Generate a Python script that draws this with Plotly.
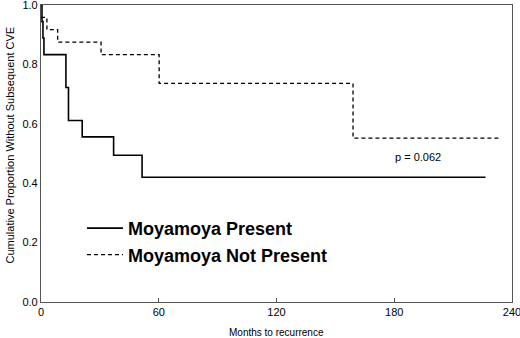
import plotly.graph_objects as go

# Moyamoya Present (solid) - step times (months) and survival proportion
present_months = [0, 0.5, 1, 1.5, 12.7, 14, 21, 37, 51.5, 226.5]
present_surv = [1.0, 0.944, 0.889, 0.833, 0.722, 0.611, 0.556, 0.494, 0.42, 0.42]

# Moyamoya Not Present (dashed)
notpresent_months = [0, 3, 8.5, 30.6, 60.2, 159, 234]
notpresent_surv = [0.958, 0.917, 0.875, 0.833, 0.736, 0.552, 0.552]

x_ticks = [0, 60, 120, 180, 240]
y_ticks = [0.0, 0.2, 0.4, 0.6, 0.8, 1.0]

fig = go.Figure()
fig.add_trace(go.Scatter(
    x=present_months, y=present_surv, mode="lines", line_shape="hv",
    line=dict(color="black", width=1.6), name="<b>Moyamoya Present</b>"))
fig.add_trace(go.Scatter(
    x=notpresent_months, y=notpresent_surv, mode="lines", line_shape="hv",
    line=dict(color="black", width=1.3, dash="4px,3px"), name="<b>Moyamoya Not Present</b>"))

fig.add_annotation(x=192, y=0.487, text="p = 0.062", showarrow=False,
                   font=dict(size=11, color="black"))
fig.add_annotation(xref="paper", yref="paper", x=0.5, y=-0.104, yanchor="middle",
                   text="Months to recurrence", showarrow=False, font=dict(size=10))
fig.add_annotation(xref="paper", yref="paper", x=-0.066, y=0.53, xanchor="center",
                   yanchor="middle", textangle=-90,
                   text="Cumulative Proportion Without Subsequent CVE", showarrow=False,
                   font=dict(size=11))

fig.update_layout(
    width=520, height=338,
    margin=dict(l=41, r=8, t=5, b=36),
    paper_bgcolor="white", plot_bgcolor="white",
    font=dict(family="Liberation Sans, Arial", color="black", size=11),
    showlegend=True,
    legend=dict(x=0.087, y=0.31, xanchor="left", yanchor="top",
                font=dict(size=18, color="black"), bgcolor="rgba(0,0,0,0)",
                itemwidth=36, tracegroupgap=0),
)
fig.update_xaxes(range=[0, 240], tickvals=x_ticks, showgrid=False, zeroline=False,
                 showline=True, linecolor="#555", linewidth=1.2, mirror=True,
                 ticks="inside", ticklen=4, tickcolor="#555", automargin=False,
                 ticklabeloverflow="allow", tickfont=dict(size=11))
fig.update_yaxes(range=[0, 1.0], tickvals=y_ticks, tickformat=".1f", showgrid=False,
                 zeroline=False, showline=True, linecolor="#555", linewidth=1.2, mirror=True,
                 ticks="", automargin=False, ticklabeloverflow="allow",
                 tickfont=dict(size=11))

fig.write_html("out.html", config={"displayModeBar": False},
               post_script="document.body.style.margin='0';")
